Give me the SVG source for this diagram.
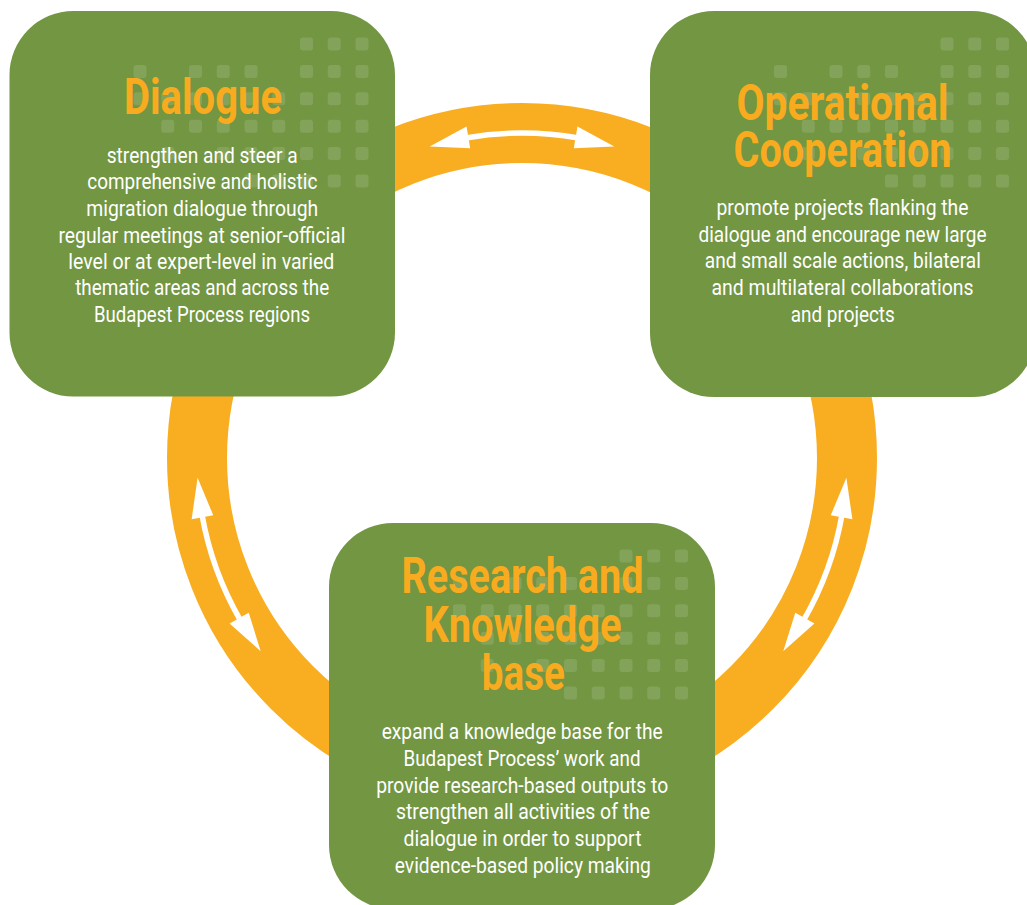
<svg xmlns="http://www.w3.org/2000/svg" xmlns:xlink="http://www.w3.org/1999/xlink" width="1027" height="905" viewBox="0 0 1027 905">
<style>
.box{fill:#729642}
.dot{fill:#ffffff;fill-opacity:0.13}
.ttl{font-family:Roboto,"Liberation Sans",sans-serif;font-weight:700;font-size:50px;fill:#f8ab1f;text-anchor:middle}
.txt{font-family:Roboto,"Liberation Sans",sans-serif;font-size:22px;fill:#ffffff;text-anchor:middle}
.ring{fill:none;stroke:#f9ae21;stroke-width:60}
.shaft{fill:none;stroke:#ffffff;stroke-width:5.5}
.head{fill:#ffffff}
</style>
<defs>
<g id="dots">
<rect class="dot" x="290.5" y="26.5" width="13" height="13" rx="3"/><rect class="dot" x="318.25" y="26.5" width="13" height="13" rx="3"/><rect class="dot" x="346" y="26.5" width="13" height="13" rx="3"/>
<rect class="dot" x="124" y="53.9" width="13" height="13" rx="3"/><rect class="dot" x="179.5" y="53.9" width="13" height="13" rx="3"/><rect class="dot" x="207.25" y="53.9" width="13" height="13" rx="3"/><rect class="dot" x="235" y="53.9" width="13" height="13" rx="3"/><rect class="dot" x="290.5" y="53.9" width="13" height="13" rx="3"/><rect class="dot" x="318.25" y="53.9" width="13" height="13" rx="3"/><rect class="dot" x="346" y="53.9" width="13" height="13" rx="3"/>
<rect class="dot" x="124" y="81.3" width="13" height="13" rx="3"/><rect class="dot" x="151.75" y="81.3" width="13" height="13" rx="3"/><rect class="dot" x="179.5" y="81.3" width="13" height="13" rx="3"/><rect class="dot" x="207.25" y="81.3" width="13" height="13" rx="3"/><rect class="dot" x="235" y="81.3" width="13" height="13" rx="3"/><rect class="dot" x="262.75" y="81.3" width="13" height="13" rx="3"/><rect class="dot" x="290.5" y="81.3" width="13" height="13" rx="3"/><rect class="dot" x="318.25" y="81.3" width="13" height="13" rx="3"/><rect class="dot" x="346" y="81.3" width="13" height="13" rx="3"/>
<rect class="dot" x="151.75" y="108.7" width="13" height="13" rx="3"/><rect class="dot" x="179.5" y="108.7" width="13" height="13" rx="3"/><rect class="dot" x="207.25" y="108.7" width="13" height="13" rx="3"/><rect class="dot" x="235" y="108.7" width="13" height="13" rx="3"/><rect class="dot" x="262.75" y="108.7" width="13" height="13" rx="3"/><rect class="dot" x="290.5" y="108.7" width="13" height="13" rx="3"/><rect class="dot" x="318.25" y="108.7" width="13" height="13" rx="3"/><rect class="dot" x="346" y="108.7" width="13" height="13" rx="3"/>
<rect class="dot" x="151.75" y="136.1" width="13" height="13" rx="3"/><rect class="dot" x="207.25" y="136.1" width="13" height="13" rx="3"/><rect class="dot" x="235" y="136.1" width="13" height="13" rx="3"/><rect class="dot" x="262.75" y="136.1" width="13" height="13" rx="3"/><rect class="dot" x="290.5" y="136.1" width="13" height="13" rx="3"/><rect class="dot" x="318.25" y="136.1" width="13" height="13" rx="3"/><rect class="dot" x="346" y="136.1" width="13" height="13" rx="3"/>
<rect class="dot" x="235" y="163.5" width="13" height="13" rx="3"/><rect class="dot" x="262.75" y="163.5" width="13" height="13" rx="3"/><rect class="dot" x="290.5" y="163.5" width="13" height="13" rx="3"/><rect class="dot" x="318.25" y="163.5" width="13" height="13" rx="3"/><rect class="dot" x="346" y="163.5" width="13" height="13" rx="3"/>
</g>
<g id="arrow">
<path class="shaft" d="M 465.56 137.94 A 325 325 0 0 1 578.44 137.94"/>
<polygon class="head" points="614.31,146.38 577.46,126.61 573.83,148.30"/>
<polygon class="head" points="429.69,146.38 466.54,126.61 470.17,148.30"/>
</g>
</defs>
<g id="connectors">
<circle class="ring" cx="522" cy="458" r="325"/>
<use xlink:href="#arrow" href="#arrow"/>
<use xlink:href="#arrow" href="#arrow" transform="rotate(-110 522 458)"/>
<use xlink:href="#arrow" href="#arrow" transform="rotate(110 522 458)"/>
</g>
<g id="dialogue">
<rect class="box" x="9.5" y="11" width="385.5" height="385.5" rx="64"/>
<use xlink:href="#dots" href="#dots" transform="translate(9.5 11)"/>
<text class="ttl" x="203" y="114" textLength="158" lengthAdjust="spacingAndGlyphs">Dialogue</text>
<text class="txt" x="202.2" y="162.7" textLength="191" lengthAdjust="spacingAndGlyphs">strengthen and steer a</text>
<text class="txt" x="202.3" y="189.3" textLength="230" lengthAdjust="spacingAndGlyphs">comprehensive and holistic</text>
<text class="txt" x="202.2" y="216" textLength="232" lengthAdjust="spacingAndGlyphs">migration dialogue through</text>
<text class="txt" x="202" y="242.7" textLength="287" lengthAdjust="spacingAndGlyphs">regular meetings at senior-official</text>
<text class="txt" x="201.3" y="268.7" textLength="266" lengthAdjust="spacingAndGlyphs">level or at expert-level in varied</text>
<text class="txt" x="202.2" y="295.3" textLength="254" lengthAdjust="spacingAndGlyphs">thematic areas and across the</text>
<text class="txt" x="202" y="322" textLength="216" lengthAdjust="spacingAndGlyphs">Budapest Process regions</text>
</g>
<g id="operational">
<rect class="box" x="650" y="11" width="386" height="386" rx="64"/>
<use xlink:href="#dots" href="#dots" transform="translate(650 11)"/>
<text class="ttl" x="842.5" y="120" textLength="212" lengthAdjust="spacingAndGlyphs">Operational</text>
<text class="ttl" x="842.5" y="166.7" textLength="218" lengthAdjust="spacingAndGlyphs">Cooperation</text>
<text class="txt" x="842.5" y="215" textLength="252" lengthAdjust="spacingAndGlyphs">promote projects flanking the</text>
<text class="txt" x="842.5" y="241.7" textLength="288" lengthAdjust="spacingAndGlyphs">dialogue and encourage new large</text>
<text class="txt" x="842.8" y="268.3" textLength="276" lengthAdjust="spacingAndGlyphs">and small scale actions, bilateral</text>
<text class="txt" x="842.5" y="295" textLength="262" lengthAdjust="spacingAndGlyphs">and multilateral collaborations</text>
<text class="txt" x="842.8" y="321.7" textLength="104" lengthAdjust="spacingAndGlyphs">and projects</text>
</g>
<g id="research">
<rect class="box" x="329" y="523" width="386" height="386" rx="64"/>
<use xlink:href="#dots" href="#dots" transform="translate(329 523)"/>
<text class="ttl" x="522.5" y="593.3" textLength="242" lengthAdjust="spacingAndGlyphs">Research and</text>
<text class="ttl" x="522.5" y="641.7" textLength="198" lengthAdjust="spacingAndGlyphs">Knowledge</text>
<text class="ttl" x="523.3" y="690" textLength="83" lengthAdjust="spacingAndGlyphs">base</text>
<text class="txt" x="522.2" y="739.3" textLength="281" lengthAdjust="spacingAndGlyphs">expand a knowledge base for the</text>
<text class="txt" x="522" y="766" textLength="237" lengthAdjust="spacingAndGlyphs">Budapest Process’ work and</text>
<text class="txt" x="522.2" y="792.7" textLength="292" lengthAdjust="spacingAndGlyphs">provide research-based outputs to</text>
<text class="txt" x="523" y="819.3" textLength="254" lengthAdjust="spacingAndGlyphs">strengthen all activities of the</text>
<text class="txt" x="522.5" y="846" textLength="238" lengthAdjust="spacingAndGlyphs">dialogue in order to support</text>
<text class="txt" x="522.8" y="872.7" textLength="256" lengthAdjust="spacingAndGlyphs">evidence-based policy making</text>
</g>
</svg>
